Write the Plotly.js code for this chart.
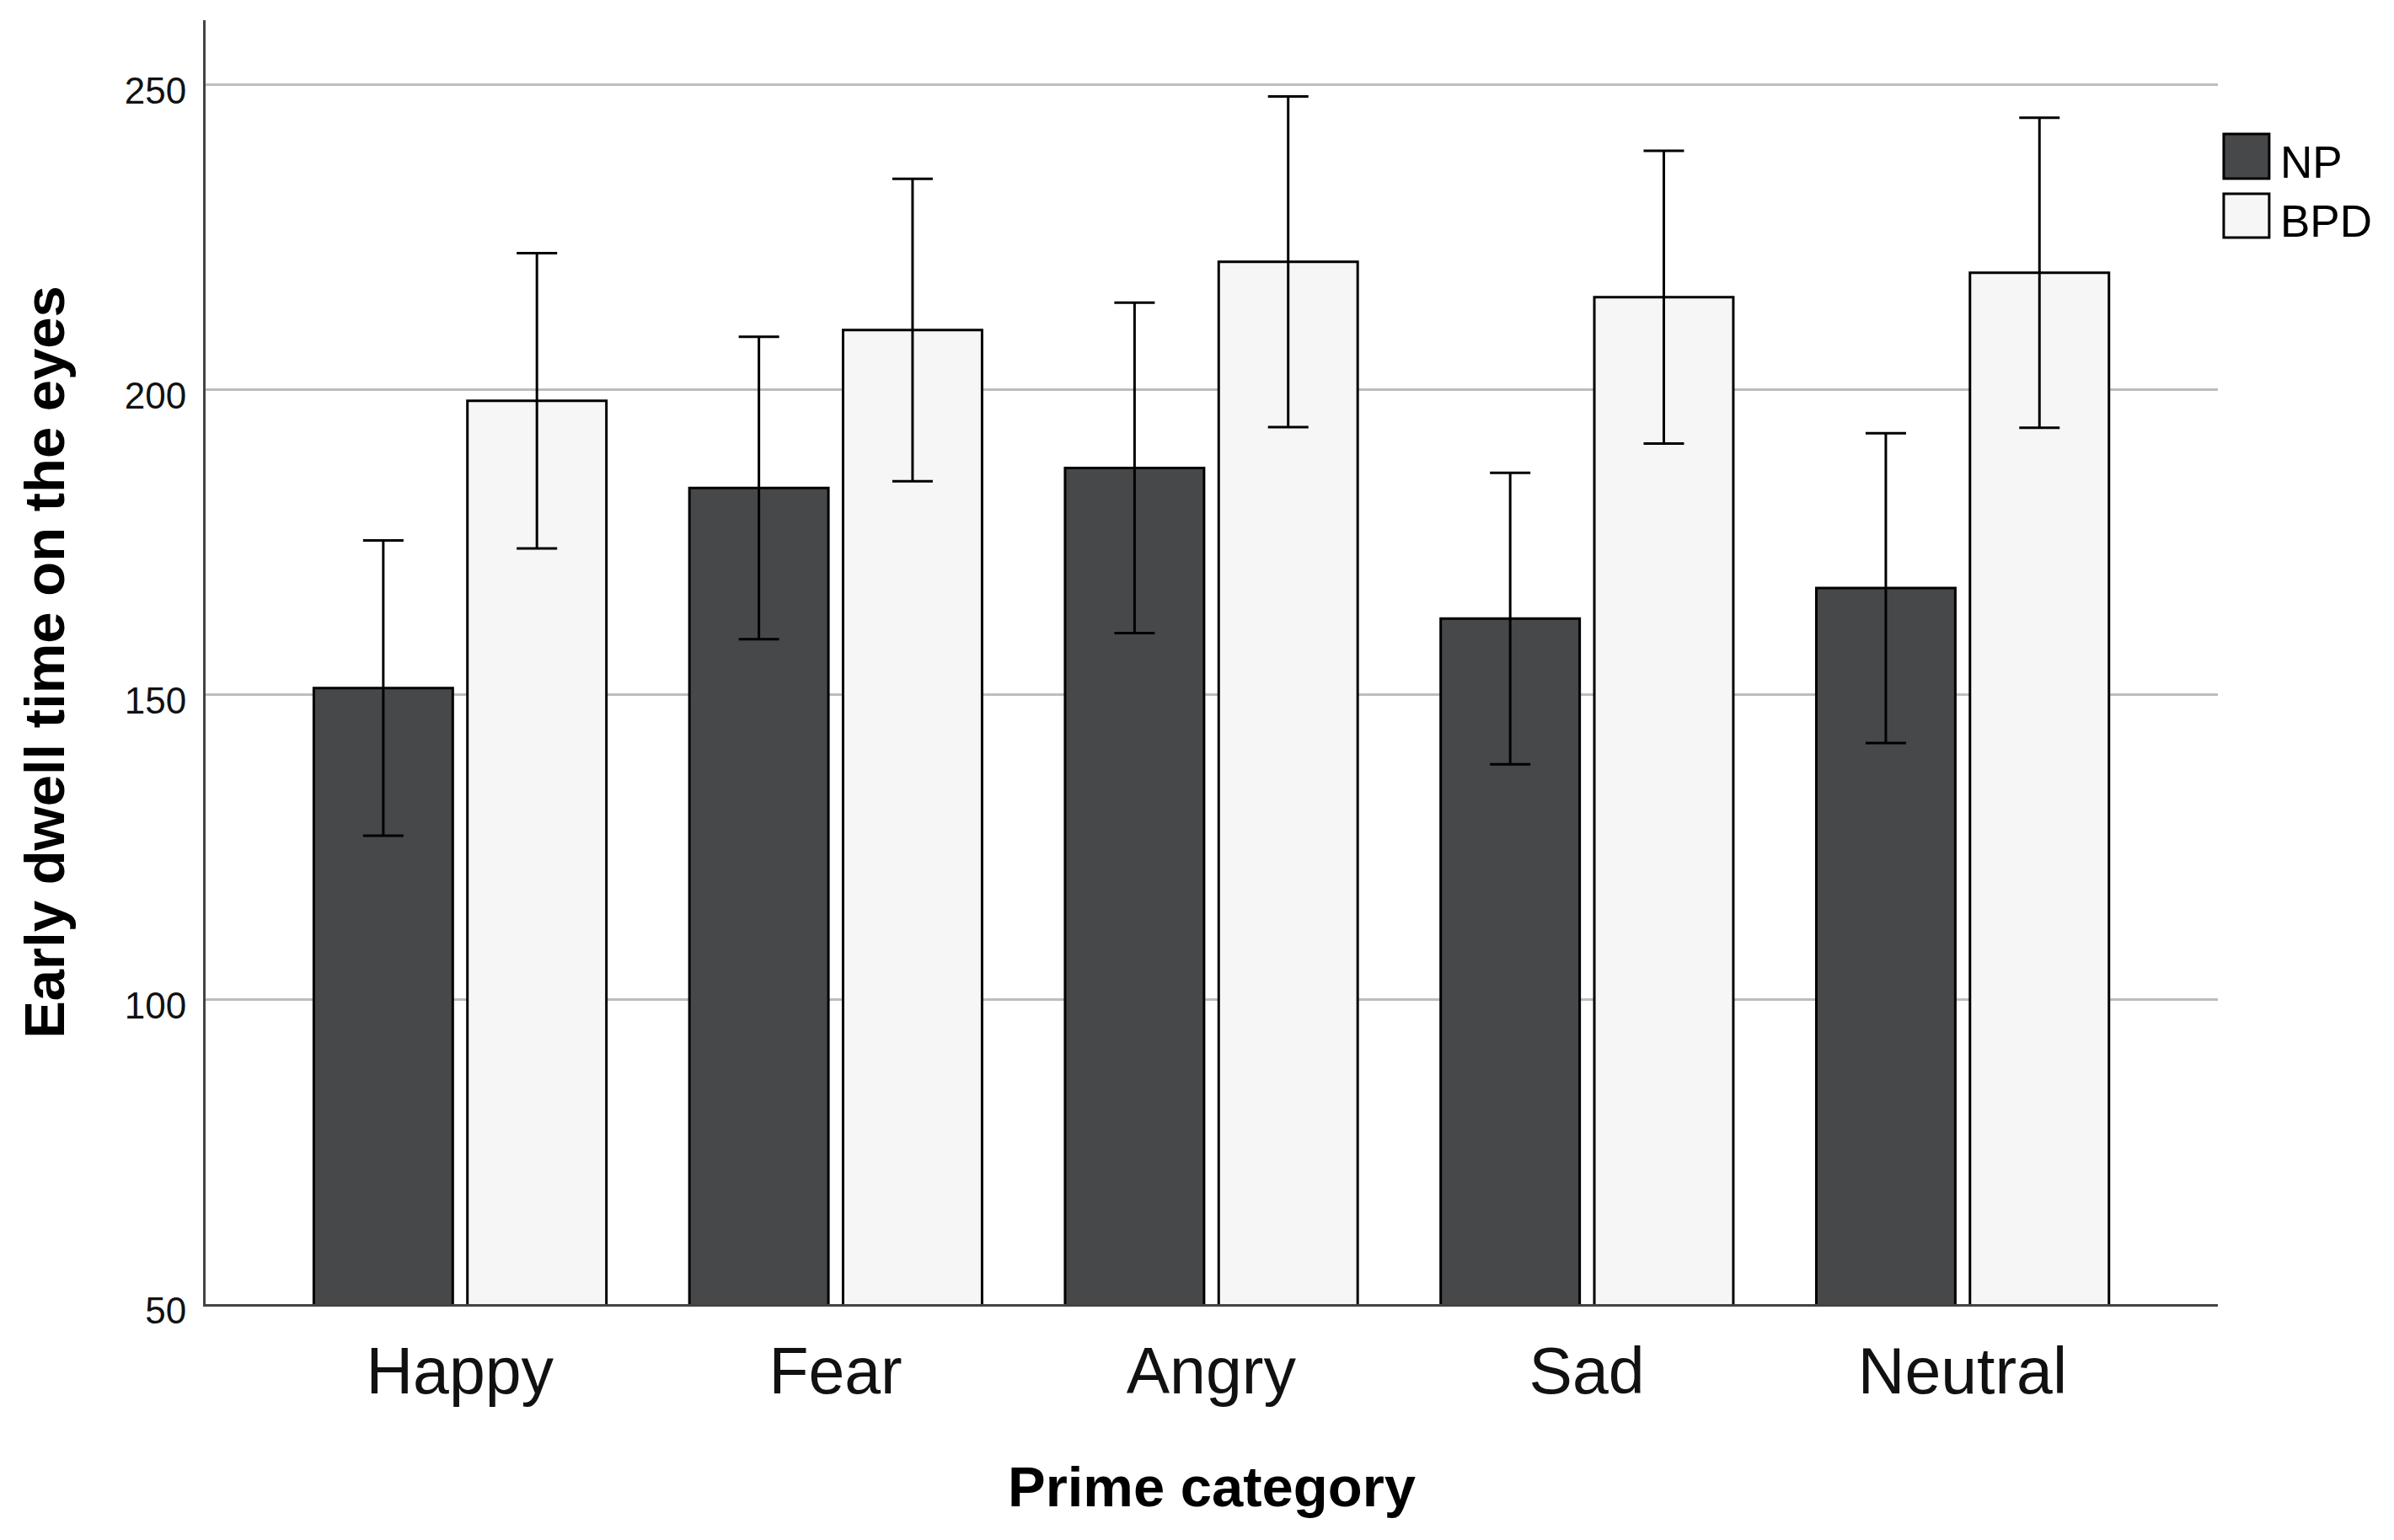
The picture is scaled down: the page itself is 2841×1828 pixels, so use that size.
<!DOCTYPE html>
<html>
<head>
<meta charset="utf-8">
<script src="https://cdn.plot.ly/plotly-3.0.1.min.js"></script>
<style>
html,body{margin:0;padding:0;background:#fff;}
#chart{width:2841px;height:1828px;}
</style>
</head>
<body>
<div id="chart"></div>
<script>
// ---- data ----
const categories = ['Happy', 'Fear', 'Angry', 'Sad', 'Neutral'];
const seriesNames = ['NP', 'BPD'];
const npMeans  = [151.0, 183.8, 187.1, 162.4, 167.4];
const npErr    = [24.2, 24.8, 27.1, 23.9, 25.4];
const bpdMeans = [198.1, 209.7, 220.9, 215.1, 219.1];
const bpdErr   = [24.2, 24.8, 27.1, 24.0, 25.4];
const yTicks   = [50, 100, 150, 200, 250];
const xTitle = 'Prime category';
const yTitle = 'Early dwell time on the eyes';

const FONT = 'Liberation Sans, Arial, Helvetica, sans-serif';
const npColor = 'rgb(70,72,74)';
const bpdColor = 'rgb(246,246,246)';

function barTrace(name, y, err, color, offset) {
  return {
    type: 'bar', name: name, x: categories, y: y,
    offset: offset, width: 0.37,
    marker: {color: color, line: {color: '#000', width: 3}},
    error_y: {type: 'data', array: err, visible: true, color: '#000', thickness: 3, width: 24},
    showlegend: false, hoverinfo: 'skip'
  };
}

const data = [
  barTrace(seriesNames[0], npMeans, npErr, npColor, -0.389),
  barTrace(seriesNames[1], bpdMeans, bpdErr, bpdColor, 0.02)
];

// manual legend (large swatches like the reference)
const legendColors = [npColor, bpdColor];
const shapes = [];
const annotations = [];
const boxTop = [0.9114, 0.8648];
const boxBot = [0.8766, 0.8307];
const txtY = [0.8894, 0.8435];
for (let i = 0; i < seriesNames.length; i++) {
  shapes.push({type: 'rect', xref: 'paper', yref: 'paper', x0: 1.0029, x1: 1.0255,
    y0: boxBot[i], y1: boxTop[i], fillcolor: legendColors[i], line: {color: '#000', width: 3}});
  annotations.push({xref: 'paper', yref: 'paper', x: 1.0300, y: txtY[i], xanchor: 'left', yanchor: 'middle',
    text: seriesNames[i], showarrow: false, font: {family: FONT, size: 53, color: '#000'}});
}

const layout = {
  width: 2841, height: 1828,
  margin: {l: 244, r: 209, t: 24, b: 280},
  paper_bgcolor: '#fff', plot_bgcolor: '#fff',
  barmode: 'overlay',
  font: {family: FONT, color: '#000'},
  xaxis: {
    type: 'category', range: [-0.677, 4.68],
    showgrid: false, zeroline: false,
    showline: true, linecolor: '#444', linewidth: 3,
    ticks: '', tickfont: {family: FONT, size: 77, color: '#111'},
    ticklabelstandoff: 11,
    automargin: false,
    title: {text: xTitle, font: {family: FONT, size: 67, color: '#000', weight: 'bold'}, standoff: 72}
  },
  yaxis: {
    range: [50, 260.5], tickvals: yTicks, ticktext: yTicks.map(String),
    showgrid: true, gridcolor: '#bdbdbd', gridwidth: 3,
    zeroline: false, showline: true, linecolor: '#444', linewidth: 3,
    ticks: '', tickfont: {family: FONT, size: 44, color: '#111'},
    ticklabelstandoff: 11, ticklabelshift: 8,
    automargin: false,
    title: {text: yTitle, font: {family: FONT, size: 67, color: '#000', weight: 'bold'}, standoff: 50}
  },
  shapes: shapes,
  annotations: annotations,
  showlegend: false
};

Plotly.newPlot('chart', data, layout, {displayModeBar: false, staticPlot: true});
</script>
</body>
</html>
